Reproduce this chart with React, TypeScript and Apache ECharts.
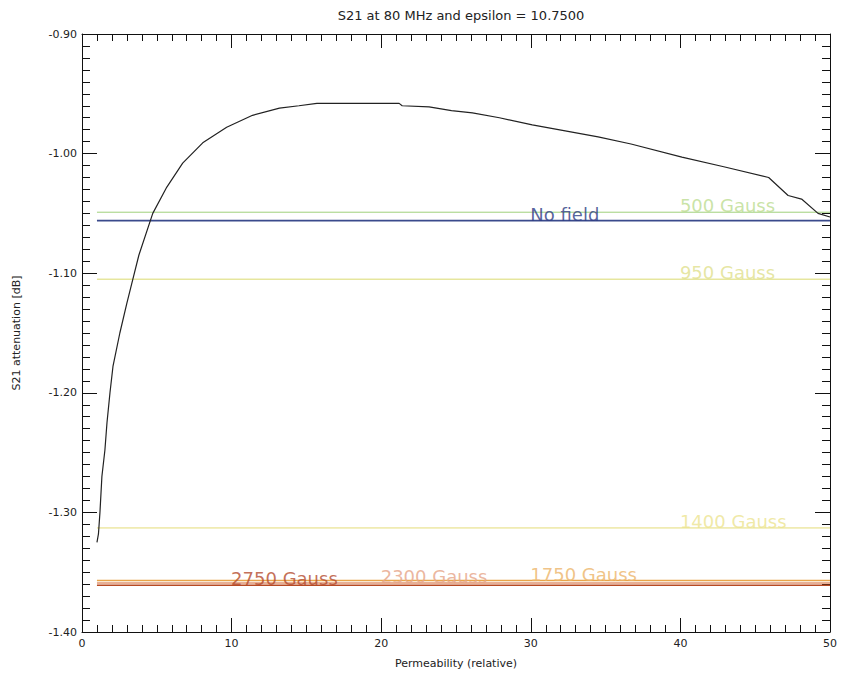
import React, { useEffect, useRef } from "react";
import * as echarts from "echarts";

const titleText = "S21 at 80 MHz and epsilon = 10.7500";
const xName = "Permeability (relative)";
const yName = "S21 attenuation [dB]";

const curveX = [1.0, 1.1, 1.2, 1.33, 1.53, 1.67, 1.87, 2.07, 2.53, 3.0, 3.4, 3.8, 4.73, 5.67, 6.73, 8.07, 9.67, 11.4, 13.2, 14.5, 15.7, 18.5, 21.2, 21.4, 23.2, 24.7, 26.1, 27.9, 30.1, 32.3, 34.5, 36.7, 40.1, 42.9, 45.9, 47.2, 48.1, 49.2, 50.0];
const curveY = [-1.325, -1.318, -1.3, -1.27, -1.248, -1.225, -1.2, -1.178, -1.15, -1.125, -1.105, -1.085, -1.05, -1.028, -1.008, -0.991, -0.978, -0.968, -0.962, -0.96, -0.958, -0.958, -0.958, -0.96, -0.961, -0.964, -0.966, -0.97, -0.976, -0.981, -0.986, -0.992, -1.003, -1.011, -1.02, -1.035, -1.038, -1.05, -1.053];

const refNames = ["500 Gauss", "No field", "950 Gauss", "1400 Gauss", "1750 Gauss", "2300 Gauss", "2750 Gauss"];
const refValues = [-1.049, -1.056, -1.105, -1.313, -1.357, -1.359, -1.361];
const refLabelX = [40, 30, 40, 40, 30, 20, 10];
const refLineStart = 1;
const refLineEnd = 50;

const refLineColors = ["#9fd07a", "#3a4a8c", "#dada70", "#e4dc78", "#e8a448", "#e09470", "#b84a22"];
const refTextColors = ["#bcdc90", "#2e3c84", "#e0e08c", "#ece490", "#ecb468", "#e6a486", "#b44a2c"];
const refLineWidths = [1, 1.6, 1, 1, 1.5, 1.5, 1.5];

const font = "DejaVu Sans";

export default function App() {
  const ref = useRef<HTMLDivElement>(null);
  useEffect(() => {
    document.body.style.margin = "0";
    if (!ref.current) return;
    const chart = echarts.init(ref.current, null, { renderer: "svg" });

    const axisCommon = {
      type: "value" as const,
      axisLine: { show: true, onZero: false, lineStyle: { color: "#111", width: 1 } },
      splitLine: { show: false },
    };

    const series: any[] = [];
    refNames.forEach((n, i) => {
      series.push({
        type: "line",
        name: n,
        data: [[refLineStart, refValues[i]], [refLineEnd, refValues[i]]],
        showSymbol: false,
        lineStyle: { color: refLineColors[i], width: refLineWidths[i] },
        silent: true,
        z: 2,
      });
    });
    refNames.forEach((n, i) => {
      series.push({
        type: "scatter",
        name: n + " label",
        data: [[refLabelX[i], refValues[i]]],
        symbolSize: 1,
        itemStyle: { color: "rgba(0,0,0,0)" },
        label: {
          show: true,
          formatter: n,
          position: [0, 3],
          align: "left",
          verticalAlign: "bottom",
          color: refTextColors[i],
          fontSize: 18,
          fontFamily: font,
        },
        silent: true,
        z: 3,
      });
    });
    series.push({
      type: "line",
      name: "S21",
      data: curveX.map((x, i) => [x, curveY[i]]),
      showSymbol: false,
      lineStyle: { color: "#222", width: 1.2 },
      z: 4,
    });

    chart.setOption({
      animation: false,
      backgroundColor: "#fff",
      title: {
        text: titleText,
        left: 456,
        top: 4,
        textAlign: "center",
        textStyle: { fontSize: 13, fontWeight: "normal", color: "#222", fontFamily: font },
      },
      grid: { left: 82, right: 12, top: 34, bottom: 50 },
      xAxis: [
        {
          ...axisCommon,
          position: "bottom",
          min: 0,
          max: 50,
          interval: 10,
          axisTick: { show: true, inside: true, length: 14, lineStyle: { color: "#111" } },
          minorTick: { show: true, splitNumber: 10, length: 7, lineStyle: { color: "#111" } },
          axisLabel: { show: true, color: "#222", fontSize: 11, fontFamily: font, margin: 6 },
          name: xName,
          nameLocation: "middle",
          nameGap: 26,
          nameTextStyle: { color: "#222", fontSize: 11, fontFamily: font },
        },
        {
          ...axisCommon,
          position: "top",
          min: 0,
          max: 50,
          interval: 10,
          axisTick: { show: true, inside: true, length: 14, lineStyle: { color: "#111" } },
          minorTick: { show: true, splitNumber: 10, length: 7, lineStyle: { color: "#111" } },
          axisLabel: { show: false },
        },
      ],
      yAxis: [
        {
          ...axisCommon,
          position: "left",
          min: -1.4,
          max: -0.9,
          interval: 0.1,
          axisTick: { show: true, inside: true, length: 15, lineStyle: { color: "#111" } },
          minorTick: { show: true, splitNumber: 10, length: 8, lineStyle: { color: "#111" } },
          axisLabel: {
            show: true,
            color: "#222",
            fontSize: 11,
            fontFamily: font,
            margin: 5,
            formatter: (v: number) => v.toFixed(2),
          },
          name: yName,
          nameLocation: "middle",
          nameRotate: 90,
          nameGap: 60,
          nameTextStyle: { color: "#222", fontSize: 11, fontFamily: font },
        },
        {
          ...axisCommon,
          position: "right",
          min: -1.4,
          max: -0.9,
          interval: 0.1,
          axisTick: { show: true, inside: true, length: 15, lineStyle: { color: "#111" } },
          minorTick: { show: true, splitNumber: 10, length: 8, lineStyle: { color: "#111" } },
          axisLabel: { show: false },
        },
      ],
      series,
    });
    return () => chart.dispose();
  }, []);
  return <div ref={ref} style={{ width: 842, height: 682 }} />;
}
